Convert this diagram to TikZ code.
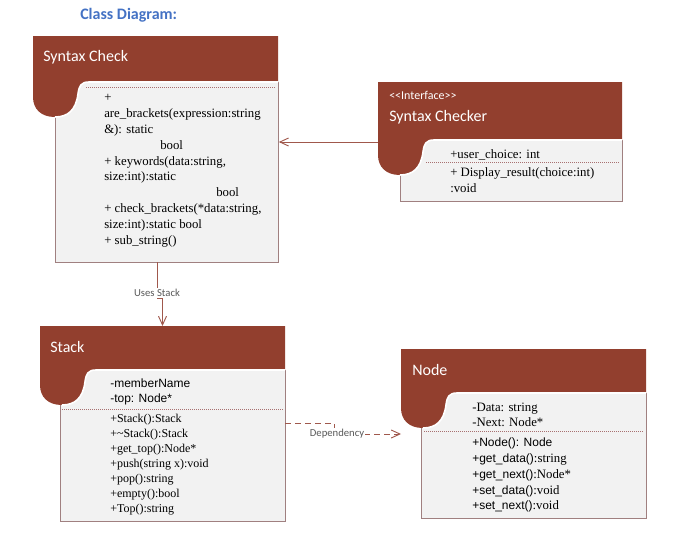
\documentclass[tikz,border=0pt]{standalone}
\usepackage{fontspec}
\setmainfont{Liberation Serif}
\newfontfamily\headfont{Carlito}
\newfontfamily\memsans{Liberation Sans}
\usetikzlibrary{arrows.meta}
\definecolor{HeadBrown}{HTML}{923F2E}
\definecolor{BodyFill}{HTML}{F2F2F2}
\definecolor{BodyLine}{HTML}{A08080}
\definecolor{LinkRed}{HTML}{A0584C}
\definecolor{SepLine}{HTML}{A87070}
\definecolor{TitleBlue}{HTML}{4472C4}
\definecolor{LabelGray}{HTML}{595959}
\newcommand\px[1]{#1*0.75pt}
% header band with the rounded lobe: #1 name, #2 left, #3 top, #4 right, #5 bottom
\newcommand\classhead[5]{%
  \fill[HeadBrown] (#2,#3) -- (#4,#3) -- (#4,#5) -- (#2+56,#5)
    .. controls (#2+48,#5) and (#2+46,#5+4) .. (#2+45,#5+12)
    .. controls (#2+43,#5+28) and (#2+35,#5+35) .. (#2+22,#5+35)
    .. controls (#2+8,#5+35) and (#2,#5+27) .. (#2,#5+15) -- cycle;
  \draw[white, line width=1.2pt] (#4,#5) -- (#2+56,#5)
    .. controls (#2+48,#5) and (#2+46,#5+4) .. (#2+45,#5+12)
    .. controls (#2+43,#5+28) and (#2+35,#5+35) .. (#2+22,#5+35);
  \coordinate (#1-top) at ({(#2+#4)/2},#3);
}
\tikzset{
  classbody/.style={draw=BodyLine, fill=BodyFill, line width=0.6pt,
    inner sep=0pt, anchor=north west},
  classname/.style={font=\headfont\fontsize{12}{14}\selectfont, text=white,
    anchor=west, inner sep=0pt},
  member/.style={font=\fontsize{9.6}{12}\selectfont, anchor=base west, inner sep=0pt},
  smallmember/.style={member, font=\fontsize{9}{11}\selectfont},
  sepline/.style={draw=SepLine, densely dotted, line width=0.5pt},
  assoc/.style={draw=LinkRed, line width=0.7pt, -{Straight Barb[length=6.5pt,width=6pt]}},
  depend/.style={assoc, dash pattern=on 4.5pt off 3pt},
  linklabel/.style={font=\headfont\fontsize{8}{9}\selectfont, text=LabelGray,
    fill=white, inner sep=1pt}
}
\begin{document}
\begin{tikzpicture}[x=0.75pt, y=-0.75pt]
  \useasboundingbox (0,0) rectangle (690,539);
  \node[font=\headfont\bfseries\fontsize{12}{14}\selectfont, text=TitleBlue,
    anchor=west, inner sep=0pt] (title) at (80,15) {Class Diagram:};

  % Syntax Check
  \node[classbody, minimum width=\px{223}, minimum height=\px{180}] (sc) at (55,82) {};
  \classhead{sc}{33}{36}{278}{82}
  \node[classname] (sc-name) at (43,57) {Syntax Check};
  \draw[sepline] (86,87) -- (276,87);
  \foreach \x/\y/\t [count=\i] in {104/101/{+},
      104/117/{are\_brackets(expression:string}, 104/133/{\&): static},
      160/149/{bool}, 104/165/{+ keywords(data:string,},
      104/180/{size:int):static}, 216/196/{bool},
      104/212/{+ check\_brackets(*data:string,},
      104/228/{size:int):static bool}, 104/244/{+ sub\_string()}}
    \node[member] (sc-\i) at (\x,\y) {\t};

  % Syntax Checker (interface)
  \node[classbody, minimum width=\px{222}, minimum height=\px{61}] (chk) at (400,140) {};
  \classhead{chk}{378}{82}{622}{140}
  \node[classname, font=\headfont\fontsize{9}{10}\selectfont] (chk-stereo) at (389,95)
    {<<Interface>>};
  \node[classname] (chk-name) at (389,117) {Syntax Checker};
  \draw[sepline] (426,162) -- (620,162);
  \foreach \y/\t [count=\i] in {158/{+user\_choice: int},
      176/{+ Display\_result(choice:int)}, 192/{:void}}
    \node[member] (chk-\i) at (450,\y) {\t};

  % Stack
  \node[classbody, minimum width=\px{225}, minimum height=\px{151}] (stk) at (60,370) {};
  \classhead{stk}{40}{326}{285}{370}
  \node[classname] (stk-name) at (50,347) {Stack};
  \draw[sepline] (62,409) -- (283,409);
  \foreach \y/\t [count=\i] in {387/{\memsans -memberName}, 402/{\memsans -top: Node*},
      422/{+Stack():Stack}, 437/{+\textasciitilde Stack():Stack},
      452/{+get\_top():Node*}, 467/{+push(string x):void}, 482/{+pop():string},
      497/{+empty():bool}, 512/{+Top():string}}
    \node[smallmember] (stk-\i) at (110,\y) {\t};

  % Node
  \node[classbody, minimum width=\px{225}, minimum height=\px{125}] (nd) at (421,393) {};
  \classhead{nd}{401}{349}{646}{393}
  \node[classname] (nd-name) at (412,370) {Node};
  \draw[sepline] (424,431) -- (644,431);
  \foreach \y/\t [count=\i] in {411/{-Data: string}, 426/{-Next: Node*},
      446/{{\memsans\fontsize{9}{11}\selectfont +Node(): Node}},
      462/{{\memsans\fontsize{9}{11}\selectfont +get\_data()}:string},
      478/{{\memsans\fontsize{9}{11}\selectfont +get\_next()}:Node*},
      494/{{\memsans\fontsize{9}{11}\selectfont +set\_data()}:void},
      509/{{\memsans\fontsize{9}{11}\selectfont +set\_next()}:void}}
    \node[member] (nd-\i) at (472,\y) {\t};

  % connectors
  \coordinate (chk-in) at (378,142);
  \coordinate (sc-out) at (157,262);
  \coordinate (stk-out) at (285,423);
  \coordinate (nd-in) at (401,434);
  \draw[assoc] (chk-in) -- (chk-in -| sc.east);
  \draw[assoc] (sc-out) -- ++(0,36) -| (stk-top);
  \node[linklabel] (uses) at (157,293) {Uses Stack};
  \draw[depend] (stk-out) -- (334,423) |- (nd-in);
  \node[linklabel] (dep) at (337,434) {Dependency};
\end{tikzpicture}
\end{document}
